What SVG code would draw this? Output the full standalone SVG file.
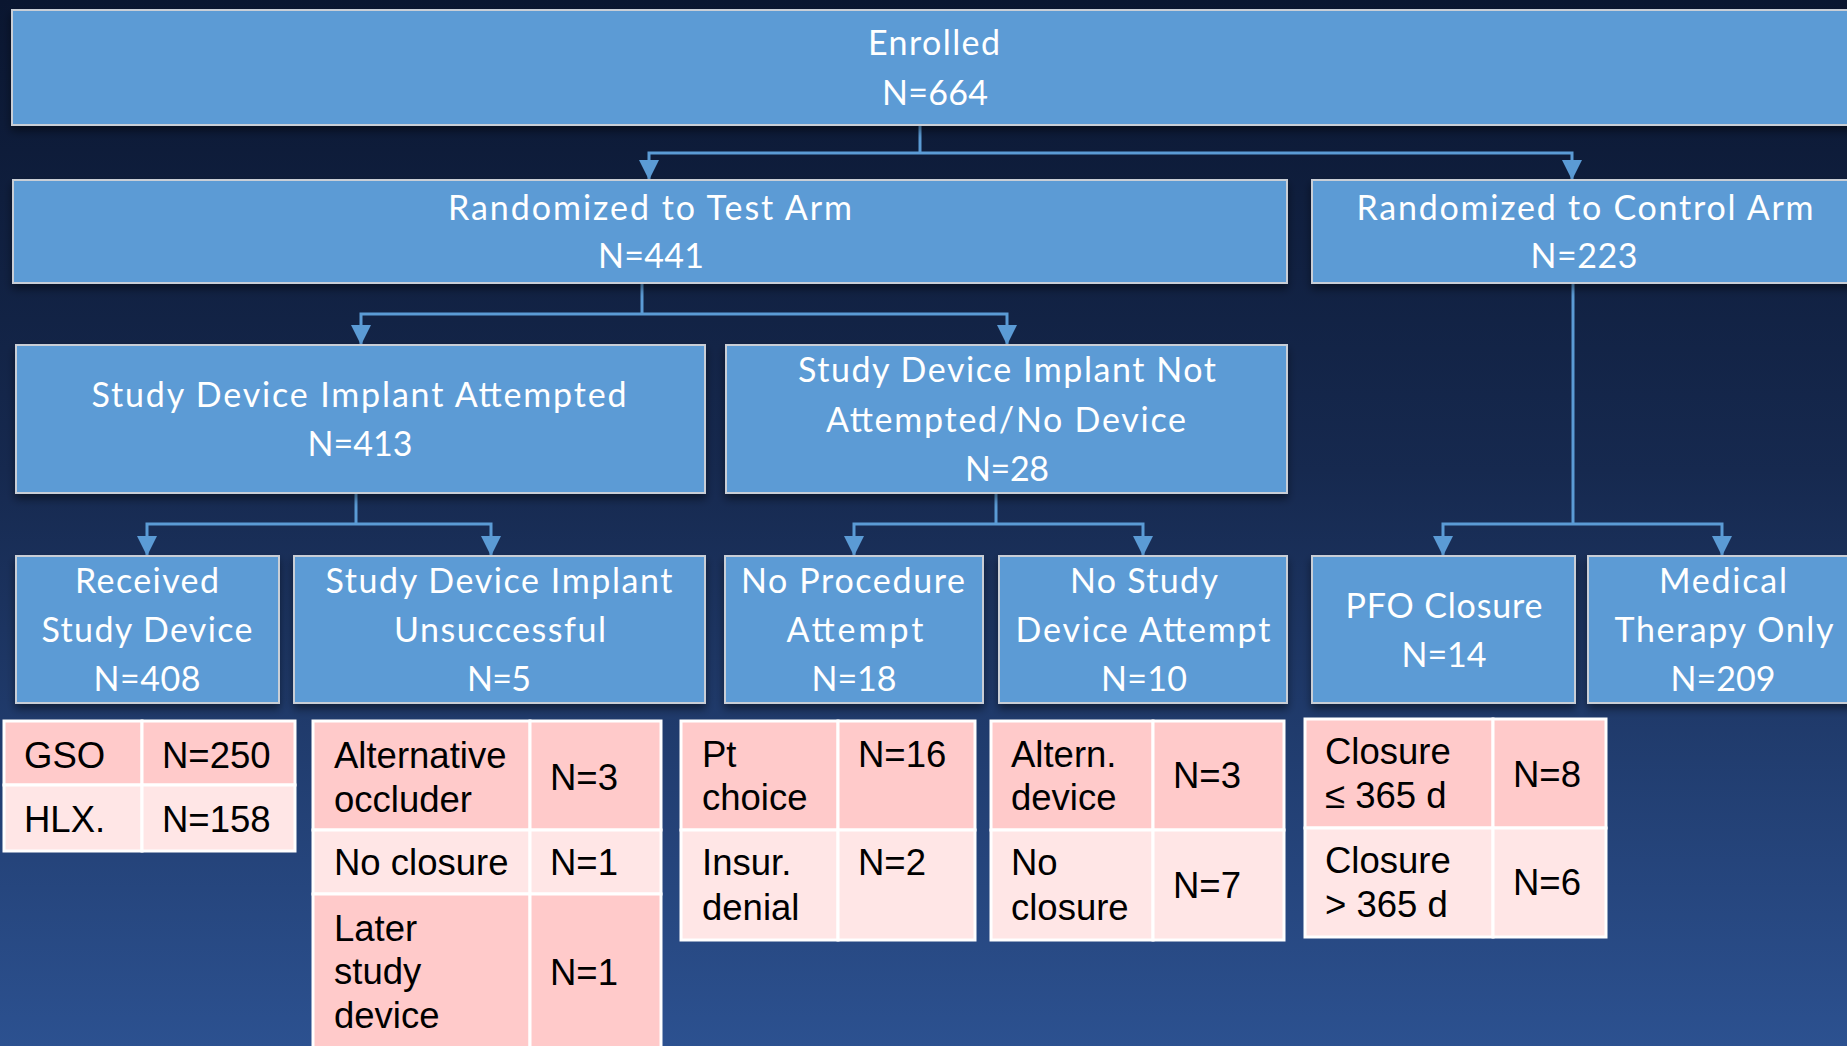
<svg xmlns="http://www.w3.org/2000/svg" width="1847" height="1046" viewBox="0 0 1847 1046">
  <defs>
    <linearGradient id="bg" x1="0" y1="0" x2="0" y2="1">
      <stop offset="0" stop-color="#0a1630"/>
      <stop offset="0.45" stop-color="#16294f"/>
      <stop offset="1" stop-color="#2c5190"/>
    </linearGradient>
    <filter id="shadow" x="-5%" y="-10%" width="110%" height="130%">
      <feDropShadow dx="0" dy="5" stdDeviation="4" flood-color="#000" flood-opacity="0.45"/>
    </filter>
    <marker id="arrow" viewBox="0 0 20 20" refX="20" refY="10" markerWidth="20" markerHeight="20" markerUnits="userSpaceOnUse" orient="auto">
      <path d="M0,0 L20,10 L0,20 Z" fill="#5b9bd5"/>
    </marker>
    <style>
      .box { fill: #5b9bd5; stroke: #c9ced6; stroke-width: 2; filter: url(#shadow); }
      .bt { font-family: Lato, "Open Sans", sans-serif; font-size: 34px; fill: #ffffff; text-anchor: middle; }
      .conn { fill: none; stroke: #5b9bd5; stroke-width: 3; }
      .dark { fill: #ffcaca; stroke: #ffffff; stroke-width: 3; }
      .light { fill: #ffe6e6; stroke: #ffffff; stroke-width: 3; }
      .tt { font-family: "Liberation Sans", Arial, sans-serif; font-size: 36.5px; fill: #000000; }
    </style>
  </defs>

  <rect x="0" y="0" width="1847" height="1046" fill="url(#bg)"/>

  <!-- connectors -->
  <g id="connectors">
    <path class="conn" d="M920,125 V153"/>
    <path class="conn" d="M920,153 H649 V180" marker-end="url(#arrow)"/>
    <path class="conn" d="M920,153 H1572 V180" marker-end="url(#arrow)"/>
    <path class="conn" d="M642,283 V314"/>
    <path class="conn" d="M642,314 H361 V345" marker-end="url(#arrow)"/>
    <path class="conn" d="M642,314 H1007 V345" marker-end="url(#arrow)"/>
    <path class="conn" d="M356,493 V524"/>
    <path class="conn" d="M356,524 H147 V556" marker-end="url(#arrow)"/>
    <path class="conn" d="M356,524 H491 V556" marker-end="url(#arrow)"/>
    <path class="conn" d="M996,493 V524"/>
    <path class="conn" d="M996,524 H854 V556" marker-end="url(#arrow)"/>
    <path class="conn" d="M996,524 H1143 V556" marker-end="url(#arrow)"/>
    <path class="conn" d="M1573,283 V524"/>
    <path class="conn" d="M1573,524 H1443 V556" marker-end="url(#arrow)"/>
    <path class="conn" d="M1573,524 H1722 V556" marker-end="url(#arrow)"/>
  </g>

  <!-- flow boxes -->
  <g id="enrolled">
    <rect class="box" x="12" y="10" width="1850" height="115"/>
    <text class="bt" x="934" y="55" textLength="132" lengthAdjust="spacing">Enrolled</text>
    <text class="bt" x="935" y="105" textLength="106" lengthAdjust="spacing">N=664</text>
  </g>
  <g id="test-arm">
    <rect class="box" x="13" y="180" width="1274" height="103"/>
    <text class="bt" x="650" y="220" textLength="404" lengthAdjust="spacing">Randomized to Test Arm</text>
    <text class="bt" x="651" y="268" textLength="106" lengthAdjust="spacing">N=441</text>
  </g>
  <g id="control-arm">
    <rect class="box" x="1312" y="180" width="550" height="103"/>
    <text class="bt" x="1585" y="220" textLength="457" lengthAdjust="spacing">Randomized to Control Arm</text>
    <text class="bt" x="1584" y="268" textLength="107" lengthAdjust="spacing">N=223</text>
  </g>
  <g id="implant-attempted">
    <rect class="box" x="16" y="345" width="689" height="148"/>
    <text class="bt" x="359" y="407" textLength="535" lengthAdjust="spacing">Study Device Implant Attempted</text>
    <text class="bt" x="360" y="456" textLength="105" lengthAdjust="spacing">N=413</text>
  </g>
  <g id="implant-not-attempted">
    <rect class="box" x="726" y="345" width="561" height="148"/>
    <text class="bt" x="1007" y="382" textLength="418" lengthAdjust="spacing">Study Device Implant Not</text>
    <text class="bt" x="1006" y="432" textLength="360" lengthAdjust="spacing">Attempted/No Device</text>
    <text class="bt" x="1007" y="481" textLength="84" lengthAdjust="spacing">N=28</text>
  </g>
  <g id="received-device">
    <rect class="box" x="16" y="556" width="263" height="147"/>
    <text class="bt" x="147" y="593" textLength="144" lengthAdjust="spacing">Received</text>
    <text class="bt" x="147" y="642" textLength="211" lengthAdjust="spacing">Study Device</text>
    <text class="bt" x="147" y="691" textLength="107" lengthAdjust="spacing">N=408</text>
  </g>
  <g id="implant-unsuccessful">
    <rect class="box" x="294" y="556" width="411" height="147"/>
    <text class="bt" x="499" y="593" textLength="347" lengthAdjust="spacing">Study Device Implant</text>
    <text class="bt" x="500" y="642" textLength="212" lengthAdjust="spacing">Unsuccessful</text>
    <text class="bt" x="499" y="691" textLength="64" lengthAdjust="spacing">N=5</text>
  </g>
  <g id="no-procedure">
    <rect class="box" x="725" y="556" width="258" height="147"/>
    <text class="bt" x="853" y="593" textLength="224" lengthAdjust="spacing">No Procedure</text>
    <text class="bt" x="855" y="642" textLength="137" lengthAdjust="spacing">Attempt</text>
    <text class="bt" x="854" y="691" textLength="85" lengthAdjust="spacing">N=18</text>
  </g>
  <g id="no-study-device">
    <rect class="box" x="999" y="556" width="288" height="147"/>
    <text class="bt" x="1144" y="593" textLength="148" lengthAdjust="spacing">No Study</text>
    <text class="bt" x="1143" y="642" textLength="255" lengthAdjust="spacing">Device Attempt</text>
    <text class="bt" x="1144" y="691" textLength="86" lengthAdjust="spacing">N=10</text>
  </g>
  <g id="pfo-closure">
    <rect class="box" x="1312" y="556" width="263" height="147"/>
    <text class="bt" x="1444" y="618" textLength="197" lengthAdjust="spacing">PFO Closure</text>
    <text class="bt" x="1444" y="667" textLength="85" lengthAdjust="spacing">N=14</text>
  </g>
  <g id="medical-therapy">
    <rect class="box" x="1588" y="556" width="274" height="147"/>
    <text class="bt" x="1723" y="593" textLength="128" lengthAdjust="spacing">Medical</text>
    <text class="bt" x="1724" y="642" textLength="219" lengthAdjust="spacing">Therapy Only</text>
    <text class="bt" x="1723" y="691" textLength="105" lengthAdjust="spacing">N=209</text>
  </g>

  <!-- breakdown tables -->
  <g id="table-received">
    <rect class="dark" x="4" y="721" width="138" height="64"/>
    <rect class="dark" x="142" y="721" width="153" height="64"/>
    <rect class="light" x="4" y="785" width="138" height="66"/>
    <rect class="light" x="142" y="785" width="153" height="66"/>
    <text class="tt" x="24" y="768">GSO</text>
    <text class="tt" x="162" y="768">N=250</text>
    <text class="tt" x="24" y="832">HLX.</text>
    <text class="tt" x="162" y="832">N=158</text>
  </g>
  <g id="table-unsuccessful">
    <rect class="dark" x="313" y="721" width="217" height="109"/>
    <rect class="dark" x="530" y="721" width="131" height="109"/>
    <rect class="light" x="313" y="830" width="217" height="64"/>
    <rect class="light" x="530" y="830" width="131" height="64"/>
    <rect class="dark" x="313" y="894" width="217" height="160"/>
    <rect class="dark" x="530" y="894" width="131" height="160"/>
    <text class="tt" x="334" y="768">Alternative</text>
    <text class="tt" x="334" y="812">occluder</text>
    <text class="tt" x="550" y="790">N=3</text>
    <text class="tt" x="334" y="875">No closure</text>
    <text class="tt" x="550" y="875">N=1</text>
    <text class="tt" x="334" y="941">Later</text>
    <text class="tt" x="334" y="984">study</text>
    <text class="tt" x="334" y="1028">device</text>
    <text class="tt" x="550" y="985">N=1</text>
  </g>
  <g id="table-no-procedure">
    <rect class="dark" x="681" y="721" width="157" height="109"/>
    <rect class="dark" x="838" y="721" width="137" height="109"/>
    <rect class="light" x="681" y="830" width="157" height="110"/>
    <rect class="light" x="838" y="830" width="137" height="110"/>
    <text class="tt" x="702" y="767">Pt</text>
    <text class="tt" x="702" y="810">choice</text>
    <text class="tt" x="858" y="767">N=16</text>
    <text class="tt" x="702" y="875">Insur.</text>
    <text class="tt" x="702" y="920">denial</text>
    <text class="tt" x="858" y="875">N=2</text>
  </g>
  <g id="table-no-study-device">
    <rect class="dark" x="991" y="721" width="162" height="109"/>
    <rect class="dark" x="1153" y="721" width="131" height="109"/>
    <rect class="light" x="991" y="830" width="162" height="110"/>
    <rect class="light" x="1153" y="830" width="131" height="110"/>
    <text class="tt" x="1011" y="767">Altern.</text>
    <text class="tt" x="1011" y="810">device</text>
    <text class="tt" x="1173" y="788">N=3</text>
    <text class="tt" x="1011" y="875">No</text>
    <text class="tt" x="1011" y="920">closure</text>
    <text class="tt" x="1173" y="898">N=7</text>
  </g>
  <g id="table-pfo-closure">
    <rect class="dark" x="1305" y="719" width="188" height="109"/>
    <rect class="dark" x="1493" y="719" width="113" height="109"/>
    <rect class="light" x="1305" y="828" width="188" height="109"/>
    <rect class="light" x="1493" y="828" width="113" height="109"/>
    <text class="tt" x="1325" y="764">Closure</text>
    <text class="tt" x="1325" y="808">≤ 365 d</text>
    <text class="tt" x="1513" y="787">N=8</text>
    <text class="tt" x="1325" y="873">Closure</text>
    <text class="tt" x="1325" y="917">&gt; 365 d</text>
    <text class="tt" x="1513" y="895">N=6</text>
  </g>
</svg>
